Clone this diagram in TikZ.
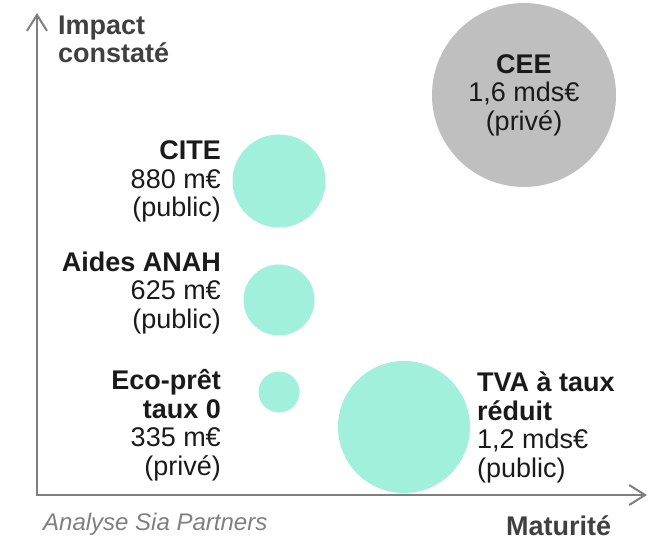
\documentclass[tikz,border=0pt]{standalone}
\usepackage{fontspec}
\setmainfont{Liberation Sans}
\usepackage{tikz}
\usetikzlibrary{positioning}
\usetikzlibrary{arrows.meta}

\definecolor{mint}{HTML}{A0F0DC}
\definecolor{greybubble}{HTML}{BFBFBF}
\definecolor{axisgrey}{HTML}{7F7F7F}
\definecolor{titlegrey}{HTML}{404040}
\definecolor{inkblack}{HTML}{1A1A1A}

\tikzset{
  bubble/.style={circle,fill=mint,inner sep=0pt},
  amount/.style={font=\fontsize{27}{28.5}\selectfont,text=inkblack,inner sep=0pt},
  axislabel/.style={font=\fontsize{27}{28.5}\selectfont\bfseries,text=titlegrey,inner sep=0pt},
  axisline/.style={draw=axisgrey,line width=2pt,
    {Straight Barb[length=16pt,width=20pt]}-{Straight Barb[length=16pt,width=20pt]}}
}

\begin{document}
\begin{tikzpicture}[x=1pt,y=-1pt]
		\useasboundingbox (0,0) rectangle (659,540);
		% axes
		\coordinate (ytip) at (37,13);
		\coordinate (origin) at (37,495);
		\coordinate (xtip) at (647,495);
		\draw [axisline] (ytip)--(origin)--(xtip);
		\node (impact) at (58,63) [axislabel,anchor=base west,align=left] {Impact\\constaté};
		\node (maturite) at (506,535) [axislabel,anchor=base west] {Maturité};
		\node (source) at (43,530) [anchor=base west,inner sep=0pt,font=\fontsize{24}{28}\selectfont\itshape,text=axisgrey] {Analyse Sia Partners};
		% bubbles
		\node (cee) at (524,95) [circle,fill=greybubble,minimum size=184pt,inner sep=0pt] {};
		\node (cite) at (279,181) [bubble,minimum size=93pt] {};
		\node (anah) at (279,300) [bubble,minimum size=71pt] {};
		\node (eco) at (279,392) [bubble,minimum size=41pt] {};
		\node (tva) at (404,427) [bubble,minimum size=132pt] {};
		% labels (base = last line)
		\node (ceetxt) at (cee) [amount,align=center] {\textbf{CEE}\\1,6 mds€\\(privé)};
		\node (citetxt) at (221,217) [amount,anchor=base east,align=right] {\textbf{CITE}\\880 m€\\(public)};
		\node (anahtxt) at (221,328) [amount,anchor=base east,align=right] {\textbf{Aides ANAH}\\625 m€\\(public)};
		\node (ecotxt) at (221,475) [amount,anchor=base east,align=right] {\textbf{Eco-prêt}\\\textbf{taux 0}\\335 m€\\(privé)};
		\node (tvatxt) at (477,477) [amount,anchor=base west,align=left] {\textbf{TVA à taux}\\\textbf{réduit}\\1,2 mds€\\(public)};
\end{tikzpicture}
\end{document}
